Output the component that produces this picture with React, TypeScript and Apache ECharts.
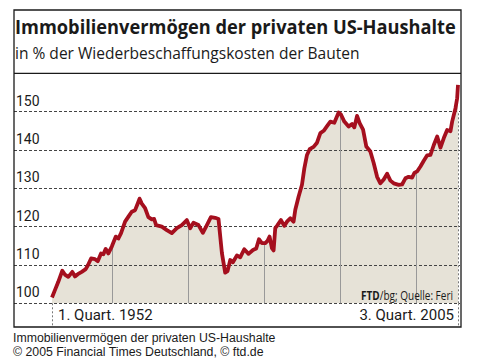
import React, { useEffect, useRef } from "react";
import * as echarts from "echarts";

const titleText = "Immobilienvermögen der privaten US-Haushalte";
const subtitleText = "in % der Wiederbeschaffungskosten der Bauten";
const captionLines = [
  "Immobilienvermögen der privaten US-Haushalte",
  "© 2005 Financial Times Deutschland, © ftd.de",
];
const sourceBold = "FTD";
const sourceRest = "/bg; Quelle: Feri";
const xLabels = ["1. Quart. 1952", "3. Quart. 2005"];
const xStart = 1952;
const xEnd = 2005.5;
const yMin = 100;
const yMax = 160;
const yStep = 10;
const decades = [1960, 1970, 1980, 1990, 2000];
const rightEdgeTop = 150;

const years = [
  1952.0, 1952.4, 1952.83, 1953.36, 1953.7, 1954.15, 1954.68, 1955.03, 1955.4, 1955.92,
  1956.44, 1956.75, 1957.15, 1957.67, 1958.03, 1958.46, 1958.77, 1959.08, 1959.43, 1959.88,
  1960.4, 1960.75, 1961.1, 1961.63, 1962.07, 1962.51, 1962.95, 1963.31, 1963.54, 1963.83,
  1964.27, 1964.7, 1965.15, 1965.46, 1965.72, 1966.47, 1967.13, 1967.79, 1968.45, 1969.11,
  1969.77, 1970.21, 1970.64, 1971.3, 1971.88, 1972.41, 1972.94, 1973.5, 1973.94, 1974.39,
  1974.82, 1975.13, 1975.49, 1975.84, 1976.37, 1976.8, 1977.33, 1977.9, 1978.48, 1978.91,
  1979.27, 1979.66, 1980.1, 1980.4, 1980.67, 1980.98, 1981.2, 1981.42, 1981.65, 1982.17,
  1982.61, 1982.96, 1983.4, 1983.83, 1984.06, 1984.49, 1984.94, 1985.25, 1985.6, 1985.95,
  1986.47, 1986.92, 1987.36, 1987.8, 1988.24, 1988.68, 1989.2, 1989.77, 1990.09, 1990.52,
  1991.09, 1991.54, 1991.84, 1992.2, 1992.54, 1992.99, 1993.42, 1993.95, 1994.39, 1994.84,
  1995.27, 1995.71, 1996.16, 1996.59, 1997.03, 1997.69, 1998.13, 1998.57, 1999.0, 1999.45,
  1999.76, 2000.11, 2000.55, 2000.99, 2001.44, 2001.87, 2002.31, 2002.76, 2003.19, 2003.63,
  2004.07, 2004.51, 2004.73, 2005.17, 2005.39, 2005.5,
];
const values = [
  101.5, 103.5, 105.6, 108.5, 107.5, 106.9, 108.2, 107.0, 107.6, 108.2,
  108.9, 110.0, 111.7, 111.5, 111.0, 113.0, 112.8, 114.2, 113.0, 114.8,
  117.4, 116.9, 118.3, 121.3, 122.6, 123.9, 124.3, 126.1, 127.3, 126.0,
  124.8, 122.5, 121.9, 122.0, 120.4, 120.0, 119.1, 118.3, 119.6, 120.4,
  121.7, 119.6, 121.0, 120.4, 118.4, 120.4, 122.5, 122.3, 122.0, 113.1,
  108.0, 108.4, 111.3, 110.7, 112.5, 112.0, 114.1, 112.9, 113.9, 114.3,
  116.7, 115.7, 115.7, 116.3, 117.4, 114.4, 113.8, 119.6, 120.2, 121.7,
  120.2, 121.3, 122.2, 121.3, 124.4, 127.8, 130.9, 135.2, 138.7, 140.2,
  140.8, 141.9, 144.4, 145.0, 146.2, 147.4, 147.1, 149.8, 149.2, 147.4,
  146.1, 146.8, 145.9, 148.9, 147.0, 145.3, 140.9, 139.6, 136.6, 133.0,
  131.3, 132.3, 133.8, 132.0, 131.3, 130.9, 131.0, 132.6, 133.0, 132.8,
  134.0, 134.4, 135.7, 137.2, 138.6, 138.7, 141.3, 143.5, 140.6, 143.1,
  145.2, 144.9, 147.4, 150.9, 153.5, 157.0,
];

const RED = "#a50f1e";
const FILL = "#e6e2d7";
const INK = "#1a1a1a";

function valueAt(x: number): number {
  for (let i = 0; i < years.length - 1; i++) {
    if (x >= years[i] && x <= years[i + 1]) {
      const t = (x - years[i]) / (years[i + 1] - years[i]);
      return values[i] + t * (values[i + 1] - values[i]);
    }
  }
  return values[values.length - 1];
}

function measure(text: string, font: string): number {
  const ctx = document.createElement("canvas").getContext("2d")!;
  ctx.font = font;
  return ctx.measureText(text).width;
}

export default function App() {
  const ref = useRef<HTMLDivElement>(null);
  useEffect(() => {
    const el = ref.current!;
    const chart = echarts.init(el, null, { renderer: "svg" });
    const data = years.map((y, i) => [y, values[i]]);

    const titleFont = "bold 19px 'Open Sans'";
    const titleScale = 441 / measure(titleText, titleFont);
    const subFont = "16.5px 'Open Sans'";
    const subScale = 345 / measure(subtitleText, subFont);
    const srcW = measure(sourceBold, "bold 12px 'Open Sans'") + measure(sourceRest, "12px 'Open Sans'");
    const srcScale = 92 / srcW;

    const gridTop = 73.3;
    const gridBottom = 60.7;

    const option: any = {
      animation: false,
      backgroundColor: "#fff",
      grid: [
        { left: 14, right: 23, top: gridTop, bottom: gridBottom },
        { left: 52, right: 25, top: gridTop, bottom: gridBottom },
      ],
      xAxis: [
        { gridIndex: 0, type: "value", min: 0, max: 1, show: false },
        {
          gridIndex: 1,
          type: "value",
          min: xStart,
          max: xEnd,
          axisLine: { show: false },
          splitLine: { show: false },
          axisTick: {
            show: true,
            customValues: [xStart, xEnd],
            length: 22,
            lineStyle: { color: "#777", type: [2, 2], width: 1 },
          },
          axisLabel: {
            customValues: [xStart, xEnd],
            formatter: (v: number) =>
              v === xStart ? "{l|" + xLabels[0] + "}" : v === xEnd ? "{r|" + xLabels[1] + "}" : "",
            alignMinLabel: "left",
            alignMaxLabel: "right",
            margin: 4,
            color: INK,
            fontFamily: "Roboto",
            fontSize: 15,
            rich: {
              l: { padding: [0, 0, 0, 6], fontFamily: "Roboto", fontSize: 15, color: INK },
              r: { padding: [0, 4, 0, 0], fontFamily: "Roboto", fontSize: 15, color: INK },
            },
          },
        },
      ],
      yAxis: [
        {
          gridIndex: 0,
          type: "value",
          min: yMin,
          max: yMax,
          interval: yStep,
          z: 2,
          axisLine: { show: false },
          axisTick: { show: false },
          splitLine: { lineStyle: { color: "#444", type: [3, 2], width: 1 } },
          axisLabel: {
            inside: true,
            margin: 2,
            verticalAlign: "bottom",
            padding: [0, 0, 4, 0],
            color: INK,
            fontFamily: "Roboto",
            fontSize: 14,
            formatter: (v: number) => (v >= yMax ? "" : String(v)),
          },
        },
        { gridIndex: 1, type: "value", min: yMin, max: yMax, show: false },
      ],
      series: [
        {
          type: "line",
          xAxisIndex: 1,
          yAxisIndex: 1,
          data,
          symbol: "none",
          z: 1,
          lineStyle: { width: 0 },
          areaStyle: { color: FILL, opacity: 1 },
          markLine: {
            silent: true,
            symbol: "none",
            label: { show: false },
            lineStyle: { color: "#999", width: 1, type: "solid" },
            data: [
              ...decades.map((d) => [{ coord: [d, yMin] }, { coord: [d, valueAt(d)] }]),
              [
                { coord: [xEnd, yMin], lineStyle: { color: "#777", type: [2, 2] } },
                { coord: [xEnd, rightEdgeTop] },
              ],
            ],
          },
        },
        {
          type: "line",
          xAxisIndex: 1,
          yAxisIndex: 1,
          data,
          symbol: "none",
          z: 10,
          lineStyle: { color: RED, width: 3.8, join: "round" },
        },
      ],
      graphic: [
        {
          type: "rect",
          z: 100,
          shape: { x: 14, y: 10, width: 447, height: 317 },
          style: { fill: "none", stroke: INK, lineWidth: 1.3 },
        },
        {
          type: "line",
          z: 100,
          shape: { x1: 14, y1: 73.3, x2: 461, y2: 73.3 },
          style: { stroke: INK, lineWidth: 1.3 },
        },
        {
          type: "text",
          z: 100,
          x: 15,
          y: 26,
          scaleX: titleScale,
          style: {
            text: titleText,
            fontFamily: "Open Sans",
            fontWeight: "bold",
            fontSize: 19,
            fill: INK,
            verticalAlign: "middle",
          },
        },
        {
          type: "text",
          z: 100,
          x: 15,
          y: 53.3,
          scaleX: subScale,
          style: {
            text: subtitleText,
            fontFamily: "Open Sans",
            fontSize: 16.5,
            fill: INK,
            verticalAlign: "middle",
          },
        },
        {
          type: "text",
          z: 100,
          x: 453,
          y: 295,
          scaleX: srcScale,
          style: {
            text: "{b|" + sourceBold + "}{n|" + sourceRest + "}",
            align: "right",
            verticalAlign: "middle",
            rich: {
              b: { fontFamily: "Open Sans", fontWeight: "bold", fontSize: 12, fill: INK },
              n: { fontFamily: "Open Sans", fontSize: 12, fill: INK },
            },
          },
        },
        {
          type: "text",
          z: 100,
          x: 13,
          y: 338,
          style: {
            text: captionLines[0],
            fontFamily: "Liberation Sans",
            fontSize: 12.3,
            fill: INK,
            verticalAlign: "middle",
          },
        },
        {
          type: "text",
          z: 100,
          x: 13,
          y: 351.7,
          style: {
            text: captionLines[1],
            fontFamily: "Liberation Sans",
            fontSize: 12.3,
            fill: INK,
            verticalAlign: "middle",
          },
        },
      ],
    };
    chart.setOption(option);
    return () => chart.dispose();
  }, []);
  return (
    <div
      ref={ref}
      style={{ position: "absolute", left: 0, top: 0, width: 483, height: 364, background: "#fff" }}
    />
  );
}
